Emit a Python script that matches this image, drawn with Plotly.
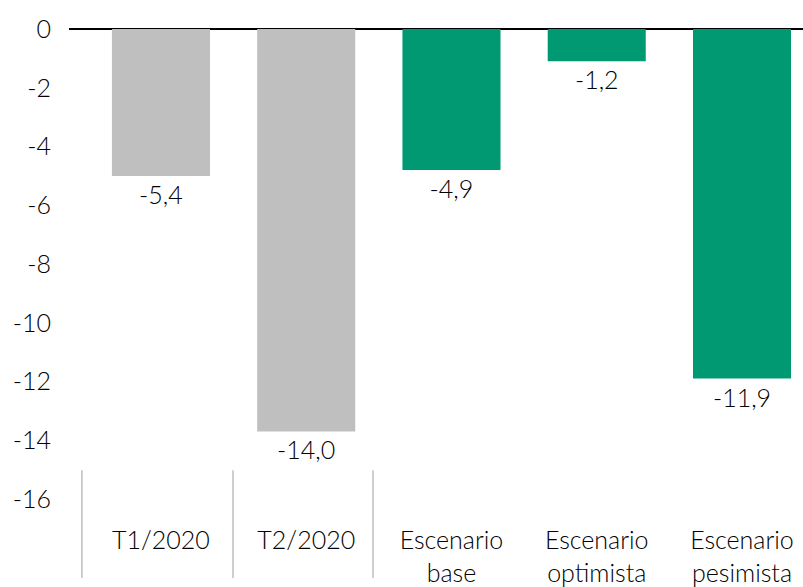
import plotly.graph_objects as go

categories = ["T1/2020", "T2/2020", "Escenario<br>base", "Escenario<br>optimista", "Escenario<br>pesimista"]
bar_values = [-5.0, -13.7, -4.8, -1.1, -11.9]
label_texts = ["-5,4", "-14,0", "-4,9", "-1,2", "-11,9"]
bar_colors = ["#bfbfbf", "#bfbfbf", "#009972", "#009972", "#009972"]
y_ticks = [0, -2, -4, -6, -8, -10, -12, -14, -16]
separator_x = [-0.544, 0.496, 1.46]

FONT = "Lato"
W = 300
TXT = "#000000"
x_idx = list(range(len(categories)))

fig = go.Figure()
fig.add_trace(go.Bar(
    x=x_idx, y=bar_values, marker=dict(color=bar_colors, line=dict(width=0)),
    width=0.675, text=label_texts, textposition="outside",
    textfont=dict(family=FONT, size=25, color=TXT, weight=W),
    cliponaxis=False, hoverinfo="skip",
))

shapes = []
for sx in separator_x:
    shapes.append(dict(type="line", xref="x", yref="paper", x0=sx, x1=sx,
                       y0=-0.168, y1=0.061, line=dict(color="#bfbfbf", width=1.5)))

fig.update_layout(
    width=803, height=587,
    margin=dict(l=69, r=0, t=29, b=80),
    paper_bgcolor="white", plot_bgcolor="white",
    showlegend=False,
    font=dict(family=FONT, size=25, color=TXT, weight=W),
    shapes=shapes,
)
fig.update_xaxes(
    range=[-0.633, 4.42], tickmode="array", tickvals=x_idx, ticktext=categories,
    showgrid=False, showline=False, zeroline=False, ticks="",
    ticklabelstandoff=24, tickfont=dict(family=FONT, size=25, color=TXT, weight=W),
)
fig.update_yaxes(
    range=[-16, 0], tickmode="array", tickvals=y_ticks, ticktext=[str(v) for v in y_ticks],
    showgrid=False, showline=False, zeroline=True, zerolinecolor="#000000", zerolinewidth=1.5,
    ticks="", ticklabelstandoff=17, tickfont=dict(family=FONT, size=25, color=TXT, weight=W),
)
fig.write_html("out.html")
